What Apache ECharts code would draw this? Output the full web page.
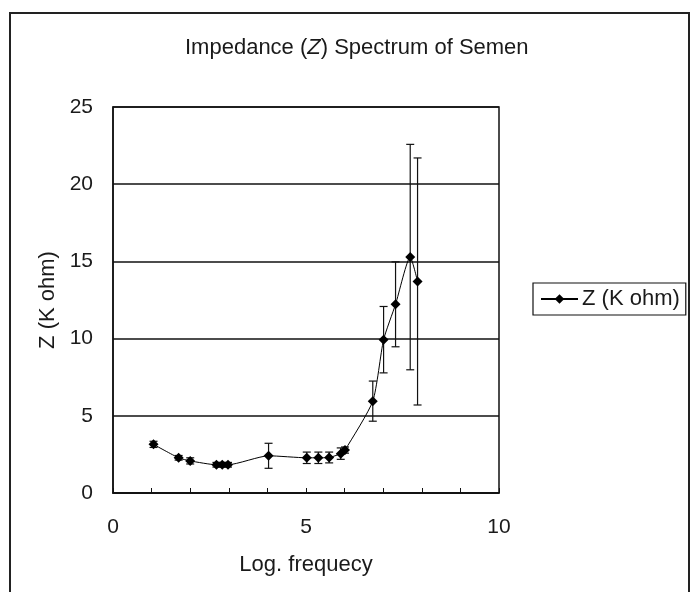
<!DOCTYPE html>
<html><head><meta charset="utf-8">
<script src="https://cdn.jsdelivr.net/npm/echarts@6/dist/echarts.min.js"></script>
<style>html,body{margin:0;padding:0;background:#fff}#c{width:691px;height:592px}</style>
</head><body><div id="c"></div>
<script>
// ---- data ----
const logFreq = [1.05, 1.70, 2.0, 2.68, 2.83, 2.98, 4.03, 5.02, 5.32, 5.6, 5.9, 6.01, 6.73, 7.01, 7.32, 7.70, 7.89];
const zValues = [3.15, 2.28, 2.08, 1.83, 1.83, 1.83, 2.41, 2.28, 2.28, 2.3, 2.55, 2.78, 5.95, 9.93, 12.22, 15.28, 13.7];
const zError  = [0.2, 0.15, 0.2, 0.15, 0.15, 0.15, 0.81, 0.37, 0.37, 0.35, 0.37, 0.2, 1.3, 2.15, 2.75, 7.3, 8.0];
const xLabelValues = [0, 5, 10];
const seriesName = 'Z (K ohm)';
const titleParts = ['Impedance (', 'Z', ') Spectrum of Semen'];
const xName = 'Log. frequecy';
const yName = 'Z (K ohm)';

const font = 'Liberation Sans, Arial, sans-serif';
const ink = '#1a1a1a';

const lineData = logFreq.map((x, i) => [x, zValues[i]]);
const errData = logFreq.map((x, i) => [x, zValues[i] - zError[i], zValues[i] + zError[i]]);

const chart = echarts.init(document.getElementById('c'), null, {renderer: 'canvas'});
chart.setOption({
  backgroundColor: '#fff',
  animation: false,
  title: {
    text: '{n|' + titleParts[0] + '}{i|' + titleParts[1] + '}{n|' + titleParts[2] + '}',
    left: 180, top: 32,
    textStyle: {
      fontWeight: 'normal',
      rich: {
        n: {fontFamily: font, fontSize: 22, color: ink, fontWeight: 'normal'},
        i: {fontFamily: font, fontSize: 22, color: ink, fontStyle: 'italic', fontWeight: 'normal'}
      }
    }
  },
  graphic: [{
    type: 'rect', silent: true,
    shape: {x: 10, y: 13, width: 679, height: 620},
    style: {fill: 'none', stroke: '#222', lineWidth: 2}
  }],
  legend: {
    data: [seriesName],
    left: 533, top: 283,
    orient: 'vertical',
    borderColor: '#111', borderWidth: 1.2,
    padding: [5, 6, 5, 7],
    itemWidth: 37, itemHeight: 12, itemGap: 0,
    textStyle: {fontFamily: font, fontSize: 22, color: ink, padding: [0, 0, 0, -1]}
  },
  grid: {
    left: 113, top: 107, width: 386, height: 386,
    show: true, borderColor: '#111', borderWidth: 1.5, backgroundColor: '#fff'
  },
  xAxis: {
    type: 'value', min: 0, max: 10, interval: 1,
    name: xName, nameLocation: 'middle', nameGap: 61,
    nameTextStyle: {fontFamily: font, fontSize: 22, color: ink},
    axisLine: {lineStyle: {color: '#111', width: 1.5}},
    axisTick: {show: true, inside: true, length: 5, lineStyle: {color: '#111', width: 1}},
    axisLabel: {
      fontFamily: font, fontSize: 21, color: ink, margin: 24,
      formatter: v => xLabelValues.includes(v) ? String(v) : ''
    },
    splitLine: {show: false}
  },
  yAxis: {
    type: 'value', min: 0, max: 25, interval: 5,
    name: yName, nameLocation: 'middle', nameGap: 53, nameRotate: 90,
    nameTextStyle: {fontFamily: font, fontSize: 22, color: ink},
    axisLine: {show: true, lineStyle: {color: '#111', width: 1.5}},
    axisTick: {show: false},
    axisLabel: {fontFamily: font, fontSize: 21, color: ink, margin: 20},
    splitLine: {show: true, lineStyle: {color: '#111', width: 1.5}}
  },
  series: [
    {
      name: 'err', type: 'custom', z: 2,
      data: errData,
      renderItem: function (params, api) {
        const x = api.value(0);
        const lo = api.coord([x, api.value(1)]);
        const hi = api.coord([x, api.value(2)]);
        const w = 4;
        const st = {stroke: '#111', lineWidth: 1.2};
        return {
          type: 'group',
          children: [
            {type: 'line', shape: {x1: lo[0], y1: lo[1], x2: hi[0], y2: hi[1]}, style: st},
            {type: 'line', shape: {x1: lo[0] - w, y1: lo[1], x2: lo[0] + w, y2: lo[1]}, style: st},
            {type: 'line', shape: {x1: hi[0] - w, y1: hi[1], x2: hi[0] + w, y2: hi[1]}, style: st}
          ]
        };
      }
    },
    {
      name: seriesName, type: 'line', z: 3,
      data: lineData,
      smooth: 0.2,
      symbol: 'diamond', symbolSize: 10,
      itemStyle: {color: '#000'},
      lineStyle: {color: '#000', width: 1}
    }
  ]
});
</script>
</body></html>
